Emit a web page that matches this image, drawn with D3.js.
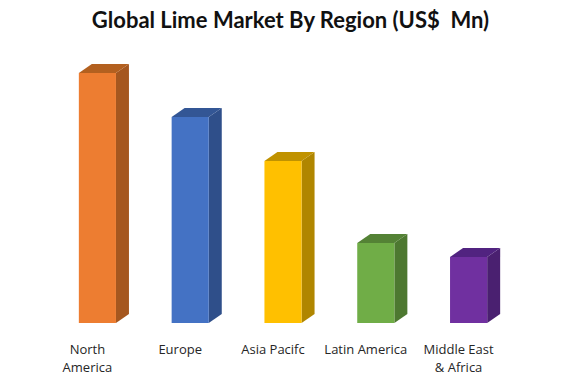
<!DOCTYPE html>
<html>
<head>
<meta charset="utf-8">
<script src="https://cdn.jsdelivr.net/npm/d3@7"></script>
<style>
  html, body { margin: 0; padding: 0; background: #fff; }
  svg { display: block; }
</style>
</head>
<body>
<div id="chart"></div>
<script>
// values (no axis in the original, so bar heights in relative units)
const regions = ["North America", "Europe", "Asia Pacifc", "Latin America", "Middle East & Africa"];
const values = [250, 206, 162, 80, 66];
const labelLines = [["North", "America"], ["Europe"], ["Asia Pacifc"], ["Latin America"], ["Middle East", "& Africa"]];
const frontColors = ["#ed7d31", "#4472c4", "#ffc000", "#70ad47", "#7030a0"];
const sideColors = ["#a5571f", "#2f4f8a", "#b08600", "#4d7830", "#4a2070"];
const topColors = ["#b3601f", "#335695", "#c09200", "#548235", "#512380"];

const width = 576, height = 384;
const depthX = 13, depthY = 9;

const svg = d3.select("#chart").append("svg")
  .attr("width", width)
  .attr("height", height);

const x = d3.scaleBand()
  .domain(regions)
  .range([51, 515])
  .paddingInner(0.6)
  .paddingOuter(0.3);

const y = d3.scaleLinear()
  .domain([0, 250])
  .range([323, 73]);

const bars = svg.selectAll("g.bar")
  .data(regions)
  .enter()
  .append("g")
  .attr("class", "bar");

// side face
bars.append("path")
  .attr("fill", (d, i) => sideColors[i])
  .attr("d", (d, i) => {
    const r = x(d) + x.bandwidth();
    return `M${r},${y(values[i])}L${r + depthX},${y(values[i]) - depthY}L${r + depthX},${y(0) - depthY}L${r},${y(0)}Z`;
  });

// top face
bars.append("path")
  .attr("fill", (d, i) => topColors[i])
  .attr("d", (d, i) => {
    const l = x(d), r = l + x.bandwidth(), t = y(values[i]);
    return `M${l},${t}L${l + depthX},${t - depthY}L${r + depthX},${t - depthY}L${r},${t}Z`;
  });

// front face
bars.append("rect")
  .attr("x", d => x(d))
  .attr("y", (d, i) => y(values[i]))
  .attr("width", x.bandwidth())
  .attr("height", (d, i) => y(0) - y(values[i]))
  .attr("fill", (d, i) => frontColors[i]);

// category labels, wrapped by hand like the original
const labels = svg.selectAll("text.label")
  .data(regions)
  .enter()
  .append("text")
  .attr("class", "label")
  .attr("text-anchor", "middle")
  .style("font-family", "'Open Sans', sans-serif")
  .style("font-size", "13px")
  .style("fill", "#262626");

labels.selectAll("tspan")
  .data((d, i) => labelLines[i].map(t => ({ t: t, cx: x(d) + x.bandwidth() / 2 - 10 })))
  .enter()
  .append("tspan")
  .attr("x", d => d.cx)
  .attr("y", (d, i) => 354 + i * 18)
  .text(d => d.t);

svg.append("text")
  .attr("x", 290.5)
  .attr("y", 28)
  .attr("text-anchor", "middle")
  .style("font-family", "Lato, sans-serif")
  .style("font-weight", "700")
  .style("font-size", "22px")
  .style("white-space", "pre")
  .style("fill", "#111")
  .text("Global Lime Market By Region (US$  Mn)");
</script>
</body>
</html>
